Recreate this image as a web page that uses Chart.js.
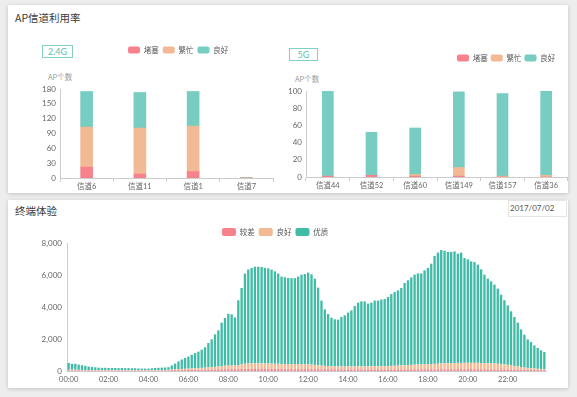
<!DOCTYPE html>
<html>
<head>
<meta charset="utf-8">
<script src="https://cdn.jsdelivr.net/npm/chart.js@4.4.1/dist/chart.umd.min.js"></script>
<style>
  body { margin: 0; width: 577px; height: 397px; background: #ededed; overflow: hidden; position: relative;
         font-family: 'Noto Sans CJK SC', Lato, sans-serif; }
  .card { position: absolute; left: 8px; width: 560px; background: #fff; box-shadow: 0 1px 4px rgba(0,0,0,0.18); }
  .title { position: absolute; left: 15px; font-size: 10.5px; line-height: 14px; color: #3a3a3a; }
  .badge { position: absolute; box-sizing: border-box; height: 13px; border: 1px solid #82d1c6; color: #5cbfb1;
           font: 9px Lato, sans-serif; line-height: 11px; text-align: center; }
  .unit { position: absolute; font-size: 7.5px; line-height: 10px; color: #999; }
  .date { position: absolute; left: 508px; top: 200px; width: 59px; height: 17px; box-sizing: border-box;
          border: 1px solid #e6e6e6; font: 8px Lato, sans-serif; line-height: 15px; color: #555; padding-left: 1px; }
  canvas { position: absolute; }
</style>
</head>
<body>
<div class="card" style="top:5px;height:188px"></div>
<div class="card" style="top:200px;height:188px"></div>

<div class="title" style="top:11px">AP信道利用率</div>
<div class="title" style="top:204px">终端体验</div>

<div class="badge" style="left:42px;top:45px;width:31px">2.4G</div>
<div class="badge" style="left:289px;top:48px;width:29px">5G</div>
<div class="unit" style="left:48px;top:72px">AP个数</div>
<div class="unit" style="left:295px;top:74px">AP个数</div>
<div class="date">2017/07/02</div>

<canvas id="band24" width="290" height="156" style="left:20px;top:36px"></canvas>
<canvas id="band5" width="290" height="155" style="left:280px;top:36px"></canvas>
<canvas id="terminal" width="545" height="163" style="left:15px;top:222px"></canvas>

<script>
// 2.4G channels
const band24Labels = ['信道6', '信道11', '信道1', '信道7'];
const band24Blocked = [22, 8, 13, 0];
const band24Busy = [81, 93, 92, 0];
const band24Good = [72, 72, 70, 1];

// 5G channels
const band5Labels = ['信道44', '信道52', '信道60', '信道149', '信道157', '信道36'];
const band5Blocked = [1, 2, 1, 1, 0, 0];
const band5Busy = [0, 0, 2, 10, 1, 2];
const band5Good = [99, 50, 54, 88, 96, 98];

// terminal experience, one bar every 10 minutes
const timeTickLabels = ['00:00', '02:00', '04:00', '06:00', '08:00', '10:00',
                        '12:00', '14:00', '16:00', '18:00', '20:00', '22:00'];
const terminalPoor = [
  40, 40, 40, 35, 35, 30, 30, 30, 30, 30, 30, 30,
  30, 30, 30, 30, 30, 30, 30, 30, 30, 30, 30, 30,
  30, 30, 30, 30, 30, 35, 40, 50, 55, 60, 65, 70,
  75, 80, 80, 85, 85, 90, 90, 95, 100, 100, 105, 110,
  110, 110, 110, 115, 120, 120, 125, 125, 125, 125, 125, 125,
  120, 120, 120, 120, 115, 115, 115, 115, 115, 115, 115, 115,
  110, 110, 110, 110, 110, 110, 110, 110, 100, 100, 100, 100,
  100, 100, 100, 100, 100, 100, 100, 100, 100, 100, 100, 100,
  100, 100, 100, 100, 100, 100, 100, 100, 105, 105, 105, 105,
  105, 105, 105, 105, 110, 110, 110, 110, 110, 110, 110, 110,
  110, 110, 110, 110, 105, 105, 105, 105, 100, 100, 100, 100,
  95, 90, 90, 85, 80, 80, 75, 70, 70, 65, 60, 60
];
const terminalGood = [
  40, 40, 40, 35, 30, 25, 25, 25, 25, 25, 25, 25,
  25, 25, 25, 25, 25, 25, 25, 25, 25, 25, 25, 25,
  25, 25, 25, 25, 25, 30, 35, 45, 55, 60, 65, 70,
  75, 80, 90, 100, 110, 120, 130, 150, 160, 180, 200, 220,
  230, 230, 230, 260, 300, 330, 340, 345, 350, 350, 350, 350,
  345, 340, 335, 330, 325, 320, 320, 315, 315, 315, 310, 310,
  300, 290, 270, 250, 230, 210, 200, 190, 180, 180, 180, 180,
  185, 185, 185, 185, 190, 190, 190, 190, 195, 195, 200, 200,
  210, 220, 230, 240, 250, 260, 270, 280, 290, 300, 305, 310,
  320, 330, 340, 350, 360, 370, 380, 390, 390, 395, 395, 400,
  400, 400, 400, 400, 395, 390, 385, 380, 370, 350, 330, 310,
  290, 260, 230, 200, 170, 140, 120, 100, 90, 70, 60, 50
];
const terminalExcellent = [
  420, 370, 370, 330, 295, 265, 225, 195, 175, 155, 145, 145,
  135, 135, 135, 125, 135, 125, 125, 115, 115, 105, 95, 95,
  95, 115, 135, 145, 155, 155, 165, 255, 350, 480, 590, 670,
  750, 860, 950, 1025, 1135, 1270, 1530, 1735, 2030, 2260, 2715, 2980,
  3240, 3200, 3010, 4045, 4770, 5640, 5875, 5970, 6045, 6045, 6025, 5965,
  5955, 5880, 5775, 5640, 5460, 5425, 5385, 5370, 5370, 5470, 5595, 5635,
  5740, 5640, 5390, 4850, 4060, 3530, 3250, 3030, 2950, 2930, 3100, 3200,
  3365, 3505, 3775, 3985, 4060, 4060, 3920, 3980, 4105, 4105, 4160, 4200,
  4320, 4490, 4610, 4700, 4840, 5140, 5300, 5470, 5625, 5695, 5690, 5875,
  6015, 6275, 6745, 6945, 7090, 7040, 6950, 6940, 6980, 6825, 6895, 6550,
  6470, 6340, 6300, 6140, 5850, 5525, 5280, 5115, 4930, 4700, 4340, 4010,
  3715, 3380, 3060, 2735, 2350, 2050, 1785, 1640, 1440, 1305, 1170, 1080
];

const timeLabels = [];
for (let h = 0; h < 24; h++) {
  for (let m = 0; m < 60; m += 10) {
    timeLabels.push(String(h).padStart(2, '0') + ':' + String(m).padStart(2, '0'));
  }
}

const RED = '#f8828c';
const ORANGE = '#f1b994';
const TEAL = '#77cdc1';
const TEAL_DARK = '#40bba6';

Chart.defaults.font.family = "Lato, 'Noto Sans CJK SC', sans-serif";
Chart.defaults.color = '#666';
Chart.defaults.animation = false;

// keeps the legend out of the layout and puts it at a fixed spot of the canvas
const legendAt = {
  id: 'legendAt',
  beforeLayout(chart) {
    const lg = chart.legend;
    if (!lg || lg._noSpace) return;
    const fit = lg.fit.bind(lg);
    lg.fit = function () { fit(); this._h = this.height; this.height = 0; };
    lg._noSpace = true;
  },
  afterLayout(chart, args, opts) {
    const lg = chart.legend;
    if (!lg || opts.x === undefined) return;
    const labels = chart.options.plugins.legend.labels;
    const pad = labels.padding;
    const itemH = Math.max(labels.font.size, labels.boxHeight);
    const w = lg.width;
    lg.left = opts.x - pad;
    lg.right = lg.left + w;
    lg.top = opts.y - pad - itemH / 2;
    lg.bottom = lg.top + (lg._h || 0);
  }
};

function legendOptions(pad, boxW, boxH) {
  return {
    position: 'top',
    align: 'start',
    labels: {
      boxWidth: boxW, boxHeight: boxH, useBorderRadius: true, borderRadius: 2,
      padding: pad, color: '#555', font: { size: 7.5, family: "'Noto Sans CJK SC', sans-serif" }
    }
  };
}

function channelChart(id, labels, blocked, busy, good, yMax, yStep, barW, yAxisW, pad, legendPos, legendPad) {
  return new Chart(document.getElementById(id), {
    type: 'bar',
    data: {
      labels: labels,
      datasets: [
        { label: '堵塞', data: blocked, backgroundColor: RED, barThickness: barW },
        { label: '繁忙', data: busy, backgroundColor: ORANGE, barThickness: barW },
        { label: '良好', data: good, backgroundColor: TEAL, barThickness: barW }
      ]
    },
    options: {
      responsive: false,
      layout: { padding: pad },
      plugins: {
        legend: legendOptions(legendPad, 12, 7),
        legendAt: legendPos,
        tooltip: { enabled: false }
      },
      scales: {
        x: {
          stacked: true,
          grid: { drawOnChartArea: false, tickLength: 4, color: '#ccc' },
          border: { color: '#ccc' },
          ticks: { padding: 0, font: { size: 7.5 }, maxRotation: 0 },
          afterFit: s => { s.height = 14; }
        },
        y: {
          stacked: true,
          min: 0, max: yMax,
          grid: { display: false, drawTicks: false },
          border: { color: '#ccc' },
          ticks: { stepSize: yStep, padding: 4, font: { size: 8 } },
          afterFit: s => { s.width = yAxisW; }
        }
      }
    },
    plugins: [legendAt]
  });
}

channelChart('band24', band24Labels, band24Blocked, band24Busy, band24Good,
  180, 30, 12, 40, { top: 53, right: 37 }, { x: 108, y: 14 }, 4);

channelChart('band5', band5Labels, band5Blocked, band5Busy, band5Good,
  100, 20, 11, 26, { top: 55, right: 2 }, { x: 177, y: 22 }, 3);

new Chart(document.getElementById('terminal'), {
  type: 'bar',
  data: {
    labels: timeLabels,
    datasets: [
      { label: '较差', data: terminalPoor, backgroundColor: RED },
      { label: '良好', data: terminalGood, backgroundColor: ORANGE },
      { label: '优质', data: terminalExcellent, backgroundColor: TEAL_DARK }
    ]
  },
  options: {
    responsive: false,
    layout: { padding: { top: 21, right: 14 } },
    datasets: { bar: { barPercentage: 0.7, categoryPercentage: 1 } },
    plugins: {
      legend: legendOptions(4, 14, 8),
      legendAt: { x: 207, y: 10 },
      tooltip: { enabled: false }
    },
    scales: {
      x: {
        stacked: true,
        grid: { display: false, drawTicks: false },
        border: { color: '#ccc' },
        ticks: {
          autoSkip: false, maxRotation: 0, minRotation: 0, padding: 4, font: { size: 7.5 },
          callback: (v, i) => timeTickLabels.includes(timeLabels[i]) ? timeLabels[i] : ''
        },
        afterFit: s => { s.height = 14; }
      },
      y: {
        stacked: true,
        min: 0, max: 8000,
        grid: { display: false, drawTicks: false },
        border: { color: '#ccc' },
        ticks: { stepSize: 2000, padding: 5, font: { size: 8 } },
        afterFit: s => { s.width = 52; }
      }
    }
  },
  plugins: [legendAt]
});
</script>
</body>
</html>
